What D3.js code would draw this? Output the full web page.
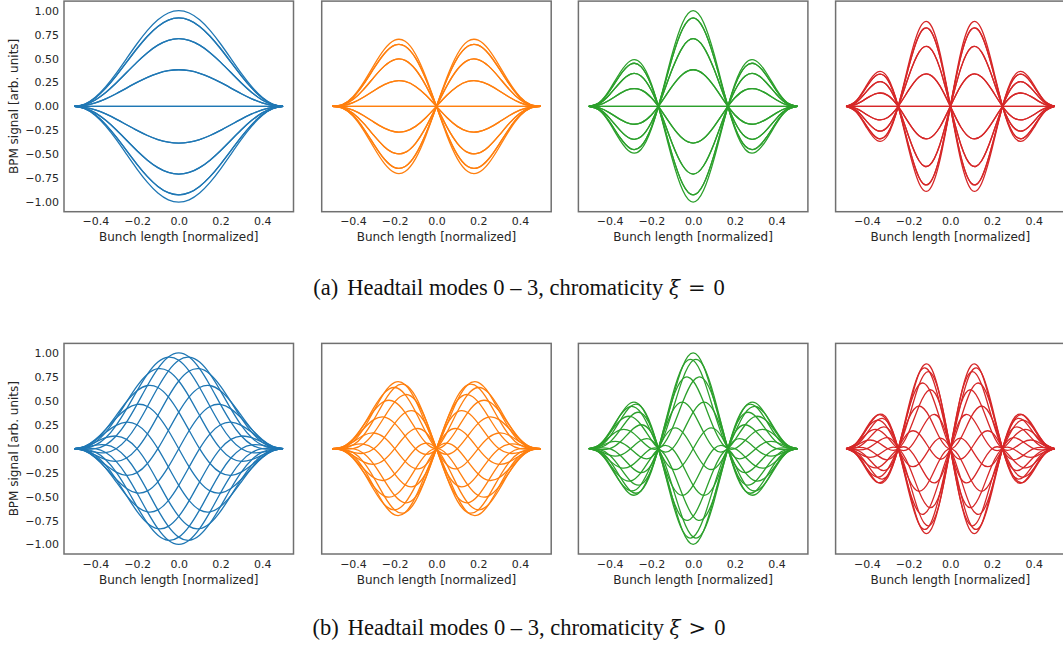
<!DOCTYPE html>
<html>
<head>
<meta charset="utf-8">
<script src="https://cdn.jsdelivr.net/npm/d3@7"></script>
<style>
  html, body { margin: 0; padding: 0; background: #fff; }
  svg { display: block; }
</style>
</head>
<body>
<svg id="fig" width="1063" height="650"></svg>
<script>
// Longitudinal position along the bunch (normalized)
const bunchPos = [-0.5, -0.45, -0.4, -0.35, -0.3, -0.25, -0.2, -0.15, -0.1, -0.05, 0,
                  0.05, 0.1, 0.15, 0.2, 0.25, 0.3, 0.35, 0.4, 0.45, 0.5];

// Headtail mode shapes without chromaticity (snapshot at full amplitude)
const modeShape0 = [0, 0.0245, 0.0955, 0.2061, 0.3455, 0.5, 0.6545, 0.7939, 0.9045, 0.9755, 1,
                    0.9755, 0.9045, 0.7939, 0.6545, 0.5, 0.3455, 0.2061, 0.0955, 0.0245, 0];
const modeShape1 = [0, -0.019, -0.101, -0.248, -0.429, -0.595, -0.692, -0.680, -0.545, -0.303, 0,
                    0.303, 0.545, 0.680, 0.692, 0.595, 0.429, 0.248, 0.101, 0.019, 0];
const modeShape2 = [0, -0.041, -0.176, -0.354, -0.477, -0.450, -0.235, 0.134, 0.551, 0.877, 1,
                    0.877, 0.551, 0.134, -0.235, -0.450, -0.477, -0.354, -0.176, -0.041, 0];
const modeShape3 = [0, 0.062, 0.226, 0.358, 0.301, 0, -0.442, -0.803, -0.869, -0.562, 0,
                    0.562, 0.869, 0.803, 0.442, 0, -0.301, -0.358, -0.226, -0.062, 0];
const flatQuadrature = bunchPos.map(() => 0);

// With chromaticity: in-phase and quarter-period snapshots of each mode
const chromaRe0 = [0, -0.0048, 0, 0.0402, 0.1322, 0.2778, 0.4628, 0.6601, 0.8357, 0.9568, 1,
                   0.9568, 0.8357, 0.6601, 0.4628, 0.2778, 0.1322, 0.0402, 0, -0.0048, 0];
const chromaIm0 = [0, -0.0240, -0.0955, -0.2021, -0.3192, -0.4158, -0.4628, -0.4411, -0.3462, -0.1903, 0,
                   0.1903, 0.3462, 0.4411, 0.4628, 0.4158, 0.3192, 0.2021, 0.0955, 0.0240, 0];
const chromaRe1 = [0, 0.0037, 0, -0.0484, -0.1642, -0.3306, -0.4893, -0.5654, -0.5035, -0.2972, 0,
                   0.2972, 0.5035, 0.5654, 0.4893, 0.3306, 0.1642, 0.0484, 0, -0.0037, 0];
const chromaIm1 = [0, 0.0186, 0.101, 0.2432, 0.3963, 0.4947, 0.4893, 0.3778, 0.2086, 0.0591, 0,
                   0.0591, 0.2086, 0.3778, 0.4893, 0.4947, 0.3963, 0.2432, 0.101, 0.0186, 0];
const chromaRe2 = [0, 0.0080, 0, -0.0691, -0.1825, -0.2500, -0.1662, 0.1114, 0.5091, 0.8602, 1,
                   0.8602, 0.5091, 0.1114, -0.1662, -0.2500, -0.1825, -0.0691, 0, 0.0080, 0];
const chromaIm2 = [0, 0.0402, 0.176, 0.3472, 0.4407, 0.3742, 0.1662, -0.0744, -0.2109, -0.1711, 0,
                   0.1711, 0.2109, 0.0744, -0.1662, -0.3742, -0.4407, -0.3472, -0.176, -0.0402, 0];
const chromaRe3 = [0, -0.0121, 0, 0.0698, 0.1152, 0, -0.3125, -0.6677, -0.8029, -0.5512, 0,
                   0.5512, 0.8029, 0.6677, 0.3125, 0, -0.1152, -0.0698, 0, 0.0121, 0];
const chromaIm3 = [0, -0.0608, -0.226, -0.3511, -0.2781, 0, 0.3125, 0.4461, 0.3326, 0.1096, 0,
                   0.1096, 0.3326, 0.4461, 0.3125, 0, -0.2781, -0.3511, -0.226, -0.0608, 0];

// Weights of the two snapshots for the 16 turns of one oscillation period
const turnRe = [1, 0.9239, 0.7071, 0.3827, 0, -0.3827, -0.7071, -0.9239,
                -1, -0.9239, -0.7071, -0.3827, 0, 0.3827, 0.7071, 0.9239];
const turnIm = [0, 0.3827, 0.7071, 0.9239, 1, 0.9239, 0.7071, 0.3827,
                0, -0.3827, -0.7071, -0.9239, -1, -0.9239, -0.7071, -0.3827];

const modeColors = ["#1f77b4", "#ff7f0e", "#2ca02c", "#d62728"];
const xTicks = [-0.4, -0.2, 0, 0.2, 0.4];
const yTicks = [-1, -0.75, -0.5, -0.25, 0, 0.25, 0.5, 0.75, 1];
const xLabel = "Bunch length [normalized]";
const yLabel = "BPM signal [arb. units]";

const rows = [
  { top: 1.1, re: [modeShape0, modeShape1, modeShape2, modeShape3],
    im: [flatQuadrature, flatQuadrature, flatQuadrature, flatQuadrature],
    tag: "(a)", text: "Headtail modes 0 – 3, chromaticity ", rel: "=", capY: 294.5 },
  { top: 343.4, re: [chromaRe0, chromaRe1, chromaRe2, chromaRe3],
    im: [chromaIm0, chromaIm1, chromaIm2, chromaIm3],
    tag: "(b)", text: "Headtail modes 0 – 3, chromaticity ", rel: ">", capY: 634.5 }
];

const panelLeft = [64, 321.7, 578.4, 835.6];
const panelW = 229.5, panelH = 210.6;

const svg = d3.select("#fig");
const x = d3.scaleLinear().domain([-0.55, 0.55]).range([0, panelW]);
const y = d3.scaleLinear().domain([-1.1, 1.1]).range([panelH, 0]);
const line = d3.line().x(d => x(d[0])).y(d => y(d[1])).curve(d3.curveNatural);

rows.forEach((row, r) => {
  panelLeft.forEach((left, m) => {
    const g = svg.append("g").attr("transform", `translate(${left},${row.top})`);

    const curves = turnRe.map((a, k) =>
      bunchPos.map((z, i) => [z, a * row.re[m][i] + turnIm[k] * row.im[m][i]]));

    g.append("g").selectAll("path").data(curves).join("path")
      .attr("d", line)
      .attr("fill", "none")
      .attr("stroke", modeColors[m])
      .attr("stroke-width", 1.3)
      .attr("stroke-linejoin", "round");

    // x axis
    const xa = g.append("g").attr("transform", `translate(0,${panelH})`)
      .call(d3.axisBottom(x).tickValues(xTicks).tickFormat(d3.format(".1f")).tickSize(0).tickPadding(6));
    xa.select(".domain").remove();
    xa.selectAll("text").attr("font-family", "DejaVu Sans").attr("font-size", 11).attr("fill", "#262626");

    g.append("text")
      .attr("x", panelW / 2).attr("y", panelH + 25.5).attr("dy", "0.35em")
      .attr("text-anchor", "middle")
      .attr("font-family", "DejaVu Sans").attr("font-size", 12).attr("fill", "#262626")
      .text(xLabel);

    if (m === 0) {
      const ya = g.append("g")
        .call(d3.axisLeft(y).tickValues(yTicks).tickFormat(d3.format(".2f")).tickSize(0).tickPadding(5));
      ya.select(".domain").remove();
      ya.selectAll("text").attr("font-family", "DejaVu Sans").attr("font-size", 11).attr("fill", "#262626");
      g.append("text")
        .attr("transform", `translate(${-50},${panelH / 2}) rotate(-90)`)
        .attr("dy", "0.35em")
        .attr("text-anchor", "middle")
        .attr("font-family", "DejaVu Sans").attr("font-size", 12).attr("fill", "#262626")
        .text(yLabel);
    }

    g.append("rect")
      .attr("width", panelW).attr("height", panelH)
      .attr("fill", "none").attr("stroke", "#707070").attr("stroke-width", 1.5);
  });

  // sub-figure caption, serif with the math symbols spaced like a relation
  const cap = svg.append("text")
    .attr("x", 519).attr("y", row.capY)
    .attr("text-anchor", "middle")
    .attr("font-family", "Liberation Serif").attr("font-size", 22.5).attr("fill", "#111");
  cap.append("tspan").text(row.tag);
  cap.append("tspan").attr("dx", 9).text(row.text);
  cap.append("tspan").attr("font-family", "DejaVu Serif").attr("font-style", "italic")
    .attr("font-size", 20).text("ξ");
  cap.append("tspan").attr("dx", 8).attr("font-family", "DejaVu Serif").attr("font-size", 21).text(row.rel);
  cap.append("tspan").attr("dx", 8).text("0");
});
</script>
</body>
</html>
